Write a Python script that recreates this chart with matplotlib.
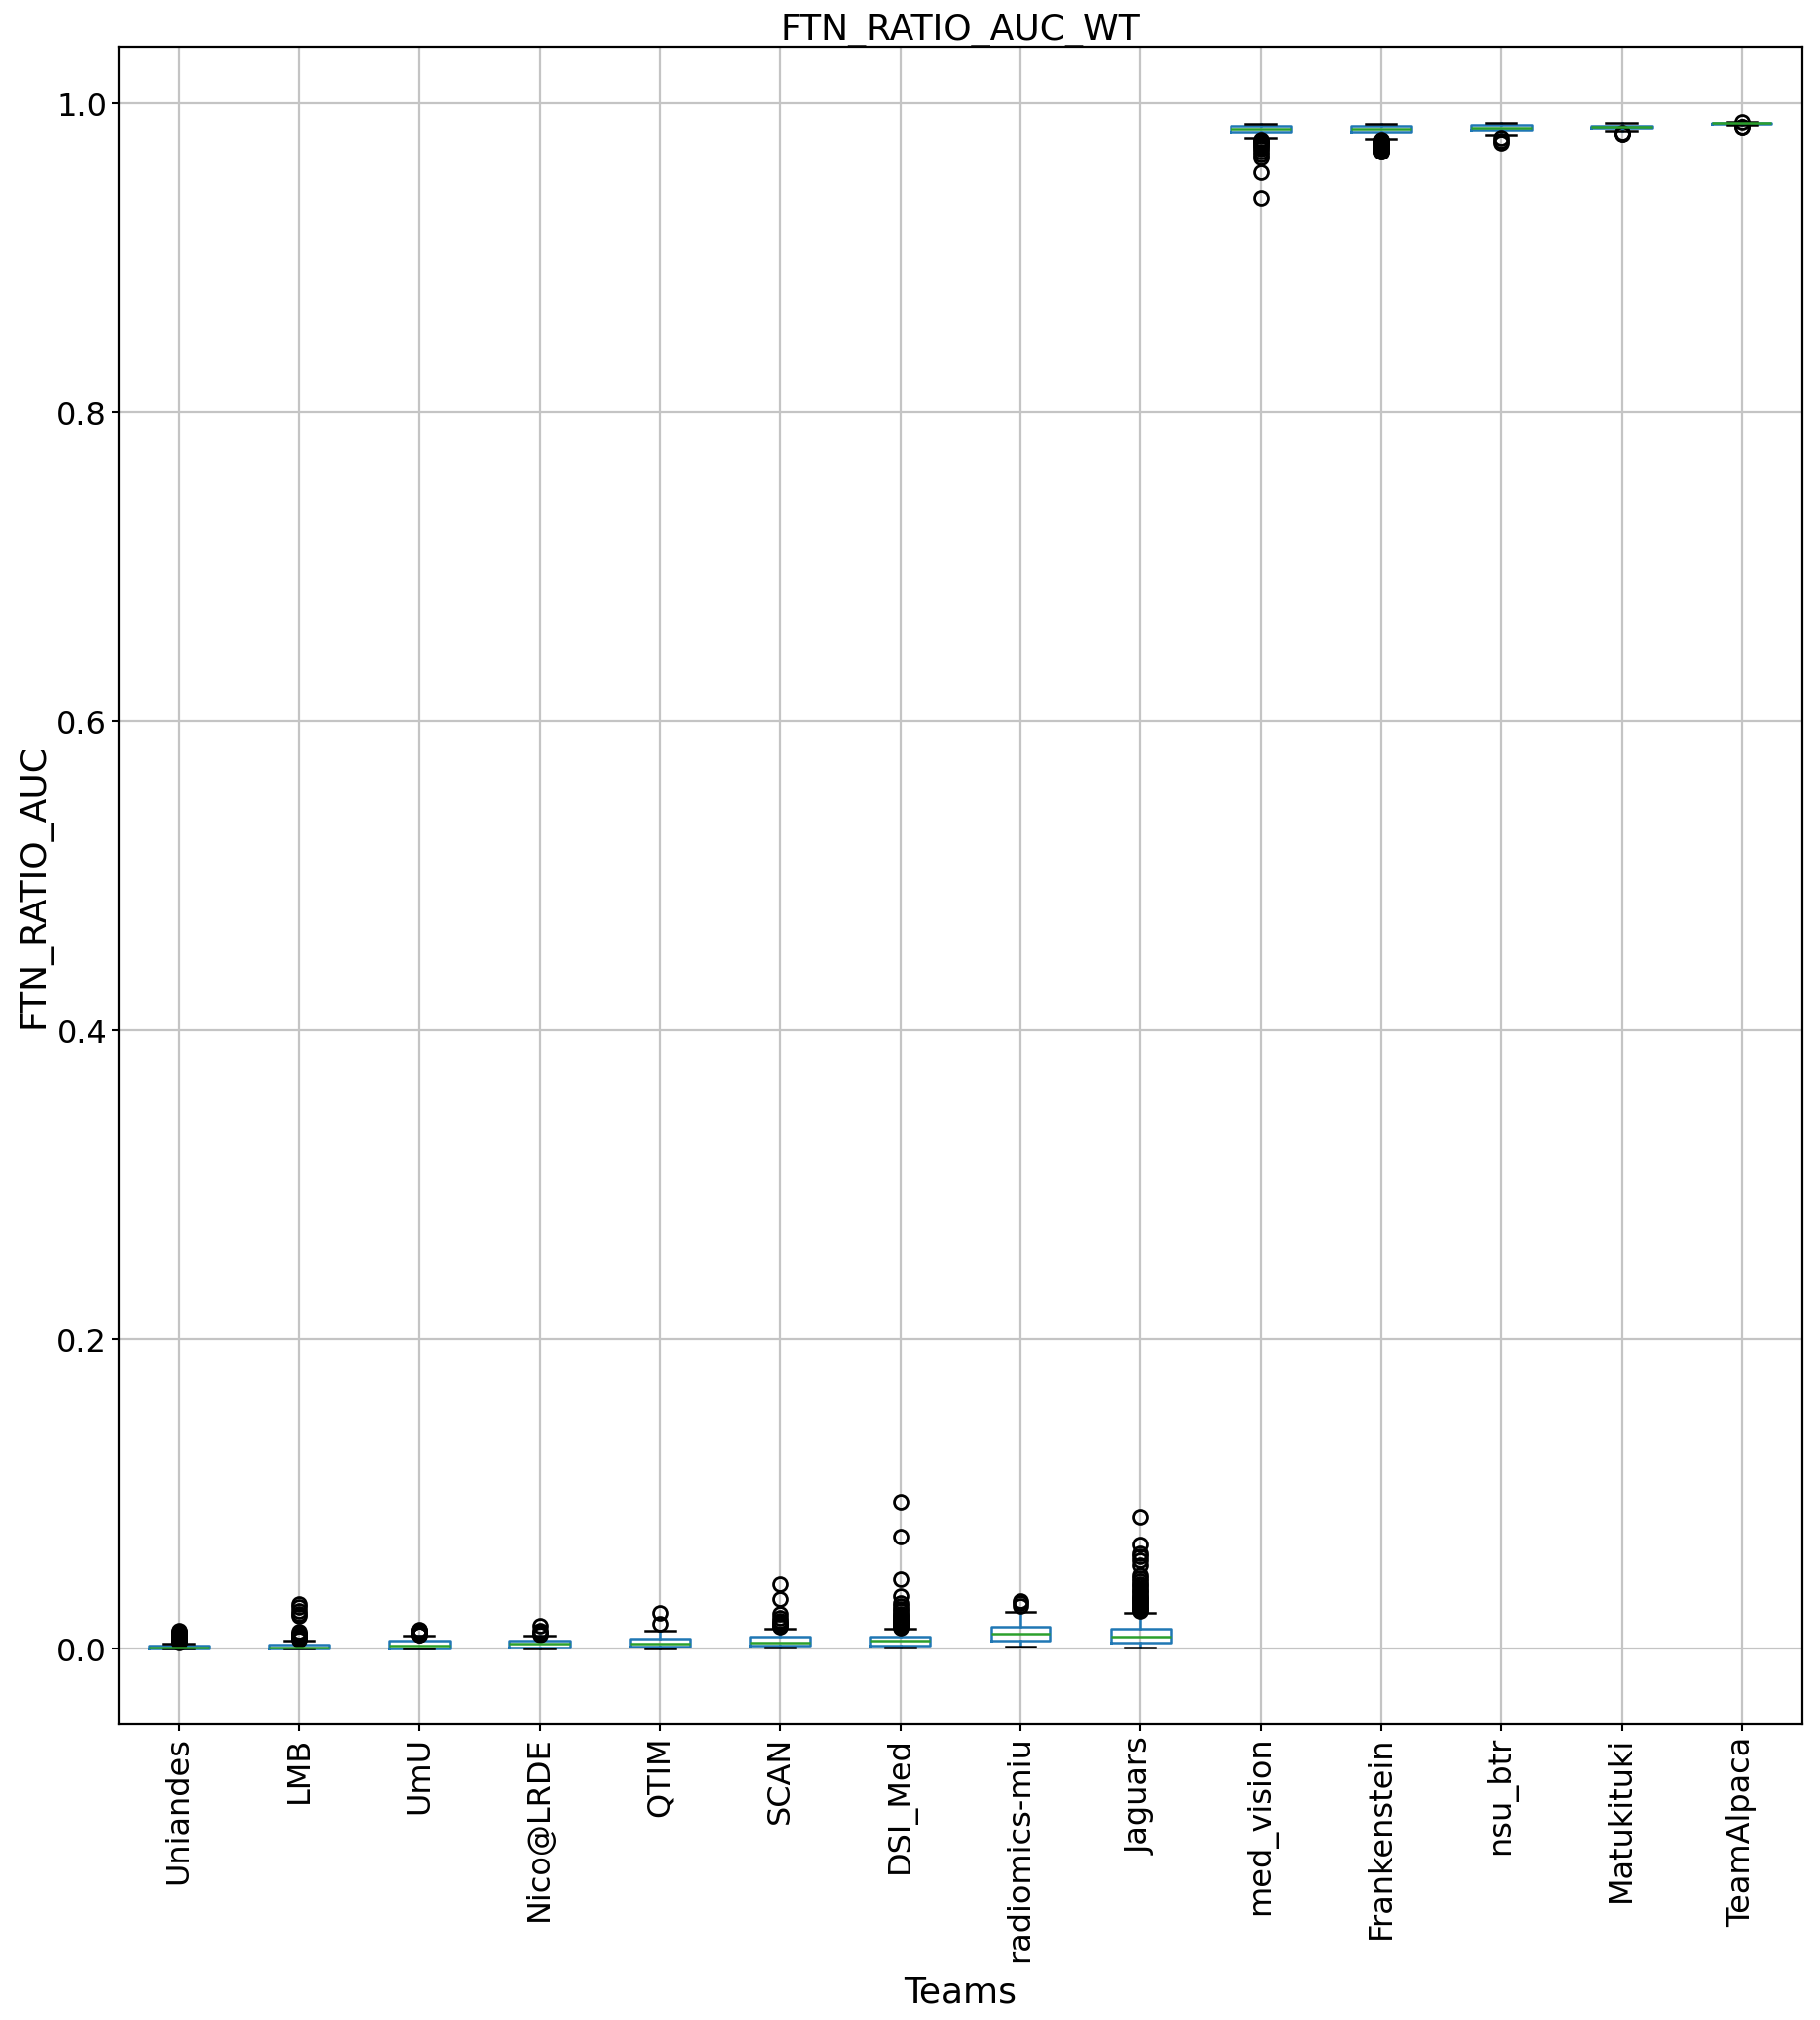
import matplotlib
matplotlib.use("Agg")
import matplotlib.pyplot as plt

teams = ["Uniandes", "LMB", "UmU", "Nico@LRDE", "QTIM", "SCAN", "DSI_Med",
         "radiomics-miu", "Jaguars", "med_vision", "Frankenstein", "nsu_btr",
         "Matukituki", "TeamAlpaca"]

q1 = [0.0004, 0.0002, 0.0003, 0.0006, 0.0013, 0.0025, 0.0023, 0.0055, 0.0040,
      0.9815, 0.9815, 0.9826, 0.9838, 0.9865]
med = [0.0012, 0.0012, 0.0023, 0.0033, 0.0036, 0.0044, 0.0051, 0.0098, 0.0077,
       0.9834, 0.9834, 0.9842, 0.9847, 0.9870]
q3 = [0.0023, 0.0030, 0.0051, 0.0051, 0.0066, 0.0077, 0.0081, 0.0145, 0.0130,
      0.9853, 0.9853, 0.9858, 0.9856, 0.9873]
whislo = [0.0, 0.0, 0.0, 0.0, 0.0, 0.0006, 0.0012, 0.0017, 0.0012,
          0.9774, 0.9772, 0.9795, 0.9822, 0.9858]
whishi = [0.0034, 0.0055, 0.0083, 0.0087, 0.0119, 0.0134, 0.0134, 0.0241, 0.0236,
          0.9868, 0.9868, 0.9874, 0.9872, 0.9878]

fliers_uniandes = [0.0040, 0.0045, 0.0050, 0.0055, 0.0060, 0.0065, 0.0070, 0.0075,
                   0.0080, 0.0085, 0.0090, 0.0095, 0.0100, 0.0105, 0.0110, 0.0118]
fliers_lmb = [0.0060, 0.0065, 0.0070, 0.0075, 0.0080, 0.0085, 0.0090, 0.0095,
              0.0100, 0.0110, 0.0215, 0.0230, 0.0247, 0.0270, 0.0290]
fliers_umu = [0.0090, 0.0095, 0.0100, 0.0105, 0.0110, 0.0115, 0.0120, 0.0125]
fliers_nico = [0.0095, 0.0105, 0.0120, 0.0150]
fliers_qtim = [0.0162, 0.0236]
fliers_scan = [0.0142, 0.0150, 0.0160, 0.0170, 0.0183, 0.0200, 0.0226, 0.0322, 0.0419]
fliers_dsi = [0.0140, 0.0145, 0.0150, 0.0155, 0.0160, 0.0165, 0.0170, 0.0175,
              0.0180, 0.0190, 0.0200, 0.0210, 0.0220, 0.0230, 0.0245, 0.0260,
              0.0280, 0.0300, 0.0344, 0.0451, 0.0728, 0.0953]
fliers_radiomics = [0.0280, 0.0295, 0.0310]
fliers_jaguars = [0.0245, 0.0255, 0.0265, 0.0275, 0.0285, 0.0295, 0.0305, 0.0315,
                  0.0325, 0.0335, 0.0345, 0.0360, 0.0375, 0.0390, 0.0405, 0.0420,
                  0.0440, 0.0455, 0.0475, 0.0540, 0.0570, 0.0600, 0.0620, 0.0675,
                  0.0857]
fliers_medvision = [0.9765, 0.9760, 0.9750, 0.9740, 0.9730, 0.9720, 0.9705, 0.9690,
                    0.9670, 0.9650, 0.9555, 0.9387]
fliers_frankenstein = [0.9765, 0.9760, 0.9755, 0.9750, 0.9745, 0.9740, 0.9735, 0.9730,
                       0.9725, 0.9720, 0.9715, 0.9710, 0.9705, 0.9700, 0.9695, 0.9690,
                       0.9685]
fliers_nsu = [0.9775, 0.9760, 0.9745]
fliers_matukituki = [0.9812, 0.9805, 0.9800]
fliers_alpaca = [0.9882, 0.9850, 0.9846]

fliers = [fliers_uniandes, fliers_lmb, fliers_umu, fliers_nico, fliers_qtim,
          fliers_scan, fliers_dsi, fliers_radiomics, fliers_jaguars,
          fliers_medvision, fliers_frankenstein, fliers_nsu, fliers_matukituki,
          fliers_alpaca]

stats = []
for i, t in enumerate(teams):
    stats.append(dict(label=t, q1=q1[i], med=med[i], q3=q3[i],
                      whislo=whislo[i], whishi=whishi[i], fliers=fliers[i]))

fig = plt.figure(figsize=(18.37, 20.40), dpi=100)
ax = fig.add_axes([0.0653, 0.1466, 0.9247, 0.8299])

lw = 1.8
positions = list(range(1, len(teams) + 1))
ax.bxp(stats, positions=positions, widths=0.5,
       boxprops=dict(color="#1f77b4", linewidth=lw),
       whiskerprops=dict(color="#1f77b4", linewidth=lw),
       capprops=dict(color="black", linewidth=lw),
       medianprops=dict(color="#2ca02c", linewidth=lw),
       flierprops=dict(marker="o", markerfacecolor="none",
                       markeredgecolor="black", markersize=10, markeredgewidth=2.0))

ax.set_xticks(positions)
ax.set_xticklabels(teams, rotation=90, fontsize=23)
ax.tick_params(axis="y", labelsize=23)
ax.tick_params(width=1.5, length=5)
ax.set_ylim(-0.0484, 1.0367)
ax.set_xlim(0.5, len(teams) + 0.5)
ax.grid(True, color="#c4c4c4", linewidth=1.6)
for s in ax.spines.values():
    s.set_linewidth(1.6)

ax.set_title("FTN_RATIO_AUC_WT", fontsize=26)
ax.set_xlabel("Teams", fontsize=26, labelpad=10)
ax.set_ylabel("FTN_RATIO_AUC", fontsize=26)

fig.savefig("out.png", dpi=100)
